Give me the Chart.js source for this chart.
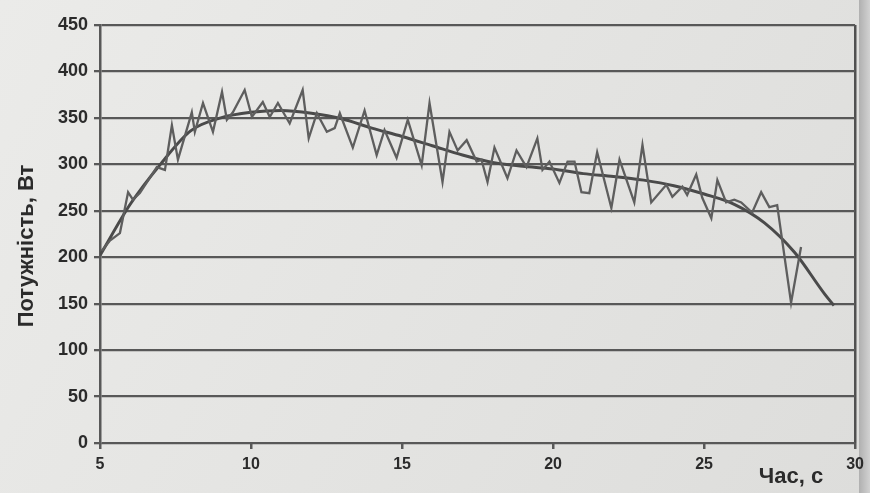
<!DOCTYPE html>
<html>
<head>
<meta charset="utf-8">
<script src="https://cdn.jsdelivr.net/npm/chart.js@4.4.1/dist/chart.umd.min.js"></script>
<style>
  html, body { margin: 0; padding: 0; background: #e6e6e4; }
  #wrap { width: 870px; height: 493px; position: relative; }
</style>
</head>
<body>
<div id="wrap"><canvas id="powerChart" width="870" height="493"></canvas></div>
<script>
const timeSec = [5.06, 5.33, 5.66, 5.93, 6.09, 6.32, 6.88, 7.15, 7.38, 7.58,
  8.04, 8.14, 8.41, 8.74, 9.04, 9.20, 9.40, 9.79, 10.03, 10.39,
  10.62, 10.89, 11.28, 11.71, 11.91, 12.18, 12.51, 12.77, 12.94, 13.37,
  13.76, 14.16, 14.42, 14.82, 15.19, 15.65, 15.91, 16.34, 16.57, 16.84,
  17.14, 17.47, 17.63, 17.83, 18.06, 18.49, 18.79, 19.12, 19.48, 19.65,
  19.88, 20.21, 20.48, 20.71, 20.94, 21.20, 21.46, 21.93, 22.20, 22.69,
  22.96, 23.25, 23.75, 23.95, 24.28, 24.44, 24.74, 24.94, 25.24, 25.44,
  25.73, 26.00, 26.23, 26.59, 26.89, 27.16, 27.42, 27.88, 28.21];
const powerW = [207, 218, 226, 270, 262, 269, 297, 294, 342, 305,
  356, 335, 366, 335, 378, 348, 356, 380, 351, 367,
  351, 366, 344, 380, 328, 355, 335, 339, 355, 318,
  358, 310, 337, 307, 348, 299, 366, 281, 335, 315,
  326, 303, 305, 281, 318, 285, 315, 297, 328, 294,
  303, 280, 303, 303, 270, 269, 313, 253, 305, 259,
  321, 259, 278, 265, 276, 267, 289, 264, 242, 283,
  259, 262, 259, 248, 270, 254, 256, 151, 211];

// trend curve
const trendTime = [5, 6, 7, 8, 9, 10, 11, 12, 13, 14, 15, 16, 17, 18, 19, 20,
  21, 22, 23, 24, 25, 26, 27, 28, 29, 29.3];
const trendW = [202, 257, 300, 336, 350, 356, 358, 355, 349, 339, 330, 320, 310, 302, 298, 295,
  290, 287, 283, 277, 268, 257, 237, 205, 160, 148];

const xTicks = [5, 10, 15, 20, 25, 30];
const yTicks = [0, 50, 100, 150, 200, 250, 300, 350, 400, 450];

const ink = '#2b2b2b';
const lineGrey = '#585858';
const fontFamily = '"Liberation Sans", Arial, sans-serif';

const paperPlugin = {
  id: 'paper',
  beforeDraw(chart) {
    const c = chart.ctx;
    c.save();
    const g = c.createLinearGradient(0, 0, 870, 493);
    g.addColorStop(0, '#ebebe9');
    g.addColorStop(1, '#dddddb');
    c.fillStyle = g;
    c.fillRect(0, 0, 870, 493);
    // page edge on the right
    const e = c.createLinearGradient(859, 0, 870, 0);
    e.addColorStop(0, '#b0b0b0');
    e.addColorStop(1, '#d2d2d2');
    c.fillStyle = e;
    c.fillRect(859, 0, 11, 493);
    c.restore();
  },
  afterDraw(chart) {
    const c = chart.ctx;
    c.save();
    c.fillStyle = ink;
    c.font = 'bold 22px ' + fontFamily;
    c.textAlign = 'center';
    c.textBaseline = 'middle';
    c.fillText('Час, с', 791, 477);
    // axis title, a little below the middle as in the scan
    c.translate(27, 246);
    c.rotate(-Math.PI / 2);
    c.fillText('Потужність, Вт', 0, 0);
    c.restore();
  }
};

new Chart(document.getElementById('powerChart'), {
  type: 'scatter',
  data: {
    datasets: [{
      label: 'Потужність',
      data: timeSec.map((t, i) => ({ x: t, y: powerW[i] })),
      showLine: true,
      borderColor: '#5e5e5e',
      borderWidth: 2.3,
      pointRadius: 0,
      tension: 0
    }, {
      label: 'Тренд',
      data: trendTime.map((t, i) => ({ x: t, y: trendW[i] })),
      showLine: true,
      borderColor: '#4a4a4a',
      borderWidth: 3,
      pointRadius: 0,
      cubicInterpolationMode: 'monotone'
    }]
  },
  options: {
    responsive: false,
    animation: false,
    layout: { padding: { top: 25, right: 11, left: 0, bottom: 0 } },
    plugins: {
      legend: { display: false },
      tooltip: { enabled: false }
    },
    scales: {
      x: {
        type: 'linear',
        min: 5,
        max: 30,
        afterBuildTicks: (s) => { s.ticks = xTicks.map(v => ({ value: v })); },
        afterFit: (s) => { s.height = 50; },
        ticks: {
          color: ink,
          padding: 6,
          maxRotation: 0,
          font: { family: fontFamily, size: 16, weight: 'bold' }
        },
        grid: {
          color: (ctx) => (ctx.tick && ctx.tick.value === 30 ? '#505050' : 'rgba(0,0,0,0)'),
          tickColor: lineGrey,
          tickLength: 6,
          lineWidth: 2.5
        },
        border: { display: false }
      },
      y: {
        min: 0,
        max: 450,
        afterBuildTicks: (s) => { s.ticks = yTicks.map(v => ({ value: v })); },
        afterFit: (s) => { s.width = 100; },
        ticks: {
          color: ink,
          padding: 6,
          font: { family: fontFamily, size: 18, weight: 'bold' }
        },
        grid: {
          color: lineGrey,
          lineWidth: 2.3,
          tickLength: 6
        },
        border: { color: lineGrey, width: 2.5 }
      }
    }
  },
  plugins: [paperPlugin]
});
</script>
</body>
</html>
